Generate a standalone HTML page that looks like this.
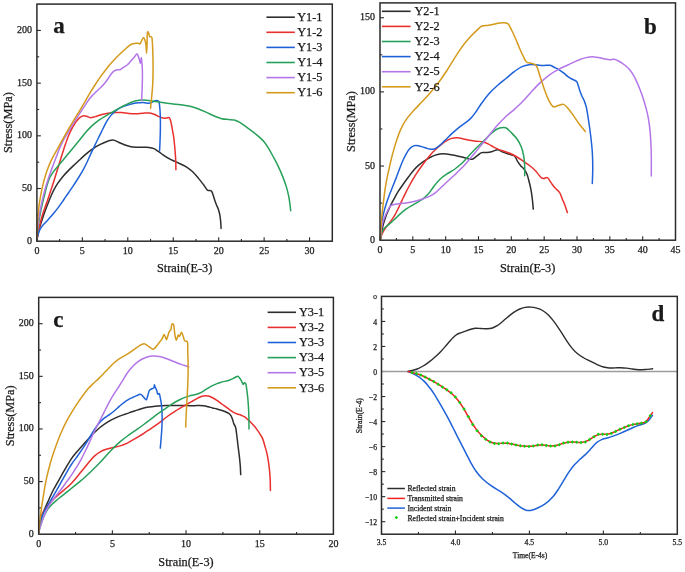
<!DOCTYPE html>
<html><head><meta charset="utf-8"><style>
html,body{margin:0;padding:0;background:#fff;overflow:hidden;width:685px;height:572px;}
svg{display:block;will-change:transform;}
text{font-family:"Liberation Serif", serif;fill:#1a1a1a;stroke:#1a1a1a;stroke-width:0.25px;}
</style></head><body>
<svg width="685" height="572" viewBox="0 0 685 572">
<rect width="685" height="572" fill="#fff"/>
<line x1="59.62" y1="241.20" x2="59.62" y2="238.90" stroke="#2b2b2b" stroke-width="1.1"/>
<line x1="82.35" y1="241.20" x2="82.35" y2="237.20" stroke="#2b2b2b" stroke-width="1.1"/>
<line x1="105.07" y1="241.20" x2="105.07" y2="238.90" stroke="#2b2b2b" stroke-width="1.1"/>
<line x1="127.79" y1="241.20" x2="127.79" y2="237.20" stroke="#2b2b2b" stroke-width="1.1"/>
<line x1="150.52" y1="241.20" x2="150.52" y2="238.90" stroke="#2b2b2b" stroke-width="1.1"/>
<line x1="173.24" y1="241.20" x2="173.24" y2="237.20" stroke="#2b2b2b" stroke-width="1.1"/>
<line x1="195.96" y1="241.20" x2="195.96" y2="238.90" stroke="#2b2b2b" stroke-width="1.1"/>
<line x1="218.68" y1="241.20" x2="218.68" y2="237.20" stroke="#2b2b2b" stroke-width="1.1"/>
<line x1="241.41" y1="241.20" x2="241.41" y2="238.90" stroke="#2b2b2b" stroke-width="1.1"/>
<line x1="264.13" y1="241.20" x2="264.13" y2="237.20" stroke="#2b2b2b" stroke-width="1.1"/>
<line x1="286.85" y1="241.20" x2="286.85" y2="238.90" stroke="#2b2b2b" stroke-width="1.1"/>
<line x1="309.58" y1="241.20" x2="309.58" y2="237.20" stroke="#2b2b2b" stroke-width="1.1"/>
<line x1="36.90" y1="214.86" x2="39.20" y2="214.86" stroke="#2b2b2b" stroke-width="1.1"/>
<line x1="36.90" y1="188.51" x2="40.90" y2="188.51" stroke="#2b2b2b" stroke-width="1.1"/>
<line x1="36.90" y1="162.17" x2="39.20" y2="162.17" stroke="#2b2b2b" stroke-width="1.1"/>
<line x1="36.90" y1="135.82" x2="40.90" y2="135.82" stroke="#2b2b2b" stroke-width="1.1"/>
<line x1="36.90" y1="109.48" x2="39.20" y2="109.48" stroke="#2b2b2b" stroke-width="1.1"/>
<line x1="36.90" y1="83.13" x2="40.90" y2="83.13" stroke="#2b2b2b" stroke-width="1.1"/>
<line x1="36.90" y1="56.79" x2="39.20" y2="56.79" stroke="#2b2b2b" stroke-width="1.1"/>
<line x1="36.90" y1="30.44" x2="40.90" y2="30.44" stroke="#2b2b2b" stroke-width="1.1"/>
<text x="36.90" y="254.20" font-size="10" text-anchor="middle">0</text>
<text x="82.35" y="254.20" font-size="10" text-anchor="middle">5</text>
<text x="127.79" y="254.20" font-size="10" text-anchor="middle">10</text>
<text x="173.24" y="254.20" font-size="10" text-anchor="middle">15</text>
<text x="218.68" y="254.20" font-size="10" text-anchor="middle">20</text>
<text x="264.13" y="254.20" font-size="10" text-anchor="middle">25</text>
<text x="309.58" y="254.20" font-size="10" text-anchor="middle">30</text>
<text x="31.90" y="243.70" font-size="10" text-anchor="end">0</text>
<text x="31.90" y="191.01" font-size="10" text-anchor="end">50</text>
<text x="31.90" y="138.32" font-size="10" text-anchor="end">100</text>
<text x="31.90" y="85.63" font-size="10" text-anchor="end">150</text>
<text x="31.90" y="32.94" font-size="10" text-anchor="end">200</text>
<line x1="396.42" y1="240.20" x2="396.42" y2="237.90" stroke="#2b2b2b" stroke-width="1.1"/>
<line x1="412.83" y1="240.20" x2="412.83" y2="236.20" stroke="#2b2b2b" stroke-width="1.1"/>
<line x1="429.25" y1="240.20" x2="429.25" y2="237.90" stroke="#2b2b2b" stroke-width="1.1"/>
<line x1="445.67" y1="240.20" x2="445.67" y2="236.20" stroke="#2b2b2b" stroke-width="1.1"/>
<line x1="462.08" y1="240.20" x2="462.08" y2="237.90" stroke="#2b2b2b" stroke-width="1.1"/>
<line x1="478.50" y1="240.20" x2="478.50" y2="236.20" stroke="#2b2b2b" stroke-width="1.1"/>
<line x1="494.92" y1="240.20" x2="494.92" y2="237.90" stroke="#2b2b2b" stroke-width="1.1"/>
<line x1="511.33" y1="240.20" x2="511.33" y2="236.20" stroke="#2b2b2b" stroke-width="1.1"/>
<line x1="527.75" y1="240.20" x2="527.75" y2="237.90" stroke="#2b2b2b" stroke-width="1.1"/>
<line x1="544.17" y1="240.20" x2="544.17" y2="236.20" stroke="#2b2b2b" stroke-width="1.1"/>
<line x1="560.58" y1="240.20" x2="560.58" y2="237.90" stroke="#2b2b2b" stroke-width="1.1"/>
<line x1="577.00" y1="240.20" x2="577.00" y2="236.20" stroke="#2b2b2b" stroke-width="1.1"/>
<line x1="593.42" y1="240.20" x2="593.42" y2="237.90" stroke="#2b2b2b" stroke-width="1.1"/>
<line x1="609.83" y1="240.20" x2="609.83" y2="236.20" stroke="#2b2b2b" stroke-width="1.1"/>
<line x1="626.25" y1="240.20" x2="626.25" y2="237.90" stroke="#2b2b2b" stroke-width="1.1"/>
<line x1="642.67" y1="240.20" x2="642.67" y2="236.20" stroke="#2b2b2b" stroke-width="1.1"/>
<line x1="659.08" y1="240.20" x2="659.08" y2="237.90" stroke="#2b2b2b" stroke-width="1.1"/>
<line x1="380.00" y1="203.12" x2="382.30" y2="203.12" stroke="#2b2b2b" stroke-width="1.1"/>
<line x1="380.00" y1="166.04" x2="384.00" y2="166.04" stroke="#2b2b2b" stroke-width="1.1"/>
<line x1="380.00" y1="128.97" x2="382.30" y2="128.97" stroke="#2b2b2b" stroke-width="1.1"/>
<line x1="380.00" y1="91.89" x2="384.00" y2="91.89" stroke="#2b2b2b" stroke-width="1.1"/>
<line x1="380.00" y1="54.81" x2="382.30" y2="54.81" stroke="#2b2b2b" stroke-width="1.1"/>
<line x1="380.00" y1="17.73" x2="384.00" y2="17.73" stroke="#2b2b2b" stroke-width="1.1"/>
<text x="380.00" y="253.20" font-size="10" text-anchor="middle">0</text>
<text x="412.83" y="253.20" font-size="10" text-anchor="middle">5</text>
<text x="445.67" y="253.20" font-size="10" text-anchor="middle">10</text>
<text x="478.50" y="253.20" font-size="10" text-anchor="middle">15</text>
<text x="511.33" y="253.20" font-size="10" text-anchor="middle">20</text>
<text x="544.17" y="253.20" font-size="10" text-anchor="middle">25</text>
<text x="577.00" y="253.20" font-size="10" text-anchor="middle">30</text>
<text x="609.83" y="253.20" font-size="10" text-anchor="middle">35</text>
<text x="642.67" y="253.20" font-size="10" text-anchor="middle">40</text>
<text x="675.50" y="253.20" font-size="10" text-anchor="middle">45</text>
<text x="375.00" y="242.70" font-size="10" text-anchor="end">0</text>
<text x="375.00" y="168.54" font-size="10" text-anchor="end">50</text>
<text x="375.00" y="94.39" font-size="10" text-anchor="end">100</text>
<text x="375.00" y="20.23" font-size="10" text-anchor="end">150</text>
<line x1="75.54" y1="534.20" x2="75.54" y2="531.90" stroke="#2b2b2b" stroke-width="1.1"/>
<line x1="112.38" y1="534.20" x2="112.38" y2="530.20" stroke="#2b2b2b" stroke-width="1.1"/>
<line x1="149.21" y1="534.20" x2="149.21" y2="531.90" stroke="#2b2b2b" stroke-width="1.1"/>
<line x1="186.05" y1="534.20" x2="186.05" y2="530.20" stroke="#2b2b2b" stroke-width="1.1"/>
<line x1="222.89" y1="534.20" x2="222.89" y2="531.90" stroke="#2b2b2b" stroke-width="1.1"/>
<line x1="259.72" y1="534.20" x2="259.72" y2="530.20" stroke="#2b2b2b" stroke-width="1.1"/>
<line x1="296.56" y1="534.20" x2="296.56" y2="531.90" stroke="#2b2b2b" stroke-width="1.1"/>
<line x1="38.70" y1="507.89" x2="41.00" y2="507.89" stroke="#2b2b2b" stroke-width="1.1"/>
<line x1="38.70" y1="481.58" x2="42.70" y2="481.58" stroke="#2b2b2b" stroke-width="1.1"/>
<line x1="38.70" y1="455.27" x2="41.00" y2="455.27" stroke="#2b2b2b" stroke-width="1.1"/>
<line x1="38.70" y1="428.96" x2="42.70" y2="428.96" stroke="#2b2b2b" stroke-width="1.1"/>
<line x1="38.70" y1="402.64" x2="41.00" y2="402.64" stroke="#2b2b2b" stroke-width="1.1"/>
<line x1="38.70" y1="376.33" x2="42.70" y2="376.33" stroke="#2b2b2b" stroke-width="1.1"/>
<line x1="38.70" y1="350.02" x2="41.00" y2="350.02" stroke="#2b2b2b" stroke-width="1.1"/>
<line x1="38.70" y1="323.71" x2="42.70" y2="323.71" stroke="#2b2b2b" stroke-width="1.1"/>
<text x="38.70" y="547.20" font-size="10" text-anchor="middle">0</text>
<text x="112.38" y="547.20" font-size="10" text-anchor="middle">5</text>
<text x="186.05" y="547.20" font-size="10" text-anchor="middle">10</text>
<text x="259.72" y="547.20" font-size="10" text-anchor="middle">15</text>
<text x="333.40" y="547.20" font-size="10" text-anchor="middle">20</text>
<text x="33.70" y="536.70" font-size="10" text-anchor="end">0</text>
<text x="33.70" y="484.08" font-size="10" text-anchor="end">50</text>
<text x="33.70" y="431.46" font-size="10" text-anchor="end">100</text>
<text x="33.70" y="378.83" font-size="10" text-anchor="end">150</text>
<text x="33.70" y="326.21" font-size="10" text-anchor="end">200</text>
<line x1="418.48" y1="534.20" x2="418.48" y2="531.90" stroke="#2b2b2b" stroke-width="1.1"/>
<line x1="455.45" y1="534.20" x2="455.45" y2="530.40" stroke="#2b2b2b" stroke-width="1.1"/>
<line x1="492.42" y1="534.20" x2="492.42" y2="531.90" stroke="#2b2b2b" stroke-width="1.1"/>
<line x1="529.40" y1="534.20" x2="529.40" y2="530.40" stroke="#2b2b2b" stroke-width="1.1"/>
<line x1="566.38" y1="534.20" x2="566.38" y2="531.90" stroke="#2b2b2b" stroke-width="1.1"/>
<line x1="603.35" y1="534.20" x2="603.35" y2="530.40" stroke="#2b2b2b" stroke-width="1.1"/>
<line x1="640.32" y1="534.20" x2="640.32" y2="531.90" stroke="#2b2b2b" stroke-width="1.1"/>
<line x1="381.50" y1="521.68" x2="385.30" y2="521.68" stroke="#2b2b2b" stroke-width="1.1"/>
<line x1="381.50" y1="509.17" x2="383.80" y2="509.17" stroke="#2b2b2b" stroke-width="1.1"/>
<line x1="381.50" y1="496.65" x2="385.30" y2="496.65" stroke="#2b2b2b" stroke-width="1.1"/>
<line x1="381.50" y1="484.14" x2="383.80" y2="484.14" stroke="#2b2b2b" stroke-width="1.1"/>
<line x1="381.50" y1="471.62" x2="385.30" y2="471.62" stroke="#2b2b2b" stroke-width="1.1"/>
<line x1="381.50" y1="459.11" x2="383.80" y2="459.11" stroke="#2b2b2b" stroke-width="1.1"/>
<line x1="381.50" y1="446.59" x2="385.30" y2="446.59" stroke="#2b2b2b" stroke-width="1.1"/>
<line x1="381.50" y1="434.07" x2="383.80" y2="434.07" stroke="#2b2b2b" stroke-width="1.1"/>
<line x1="381.50" y1="421.56" x2="385.30" y2="421.56" stroke="#2b2b2b" stroke-width="1.1"/>
<line x1="381.50" y1="409.04" x2="383.80" y2="409.04" stroke="#2b2b2b" stroke-width="1.1"/>
<line x1="381.50" y1="396.53" x2="385.30" y2="396.53" stroke="#2b2b2b" stroke-width="1.1"/>
<line x1="381.50" y1="384.01" x2="383.80" y2="384.01" stroke="#2b2b2b" stroke-width="1.1"/>
<line x1="381.50" y1="371.49" x2="385.30" y2="371.49" stroke="#2b2b2b" stroke-width="1.1"/>
<line x1="381.50" y1="358.98" x2="383.80" y2="358.98" stroke="#2b2b2b" stroke-width="1.1"/>
<line x1="381.50" y1="346.46" x2="385.30" y2="346.46" stroke="#2b2b2b" stroke-width="1.1"/>
<line x1="381.50" y1="333.95" x2="383.80" y2="333.95" stroke="#2b2b2b" stroke-width="1.1"/>
<line x1="381.50" y1="321.43" x2="385.30" y2="321.43" stroke="#2b2b2b" stroke-width="1.1"/>
<line x1="381.50" y1="308.92" x2="383.80" y2="308.92" stroke="#2b2b2b" stroke-width="1.1"/>
<text x="381.50" y="544.70" font-size="7.7" text-anchor="middle">3.5</text>
<text x="455.45" y="544.70" font-size="7.7" text-anchor="middle">4.0</text>
<text x="529.40" y="544.70" font-size="7.7" text-anchor="middle">4.5</text>
<text x="603.35" y="544.70" font-size="7.7" text-anchor="middle">5.0</text>
<text x="677.30" y="544.70" font-size="7.7" text-anchor="middle">5.5</text>
<text x="377.00" y="524.98" font-size="7.7" text-anchor="end">−12</text>
<text x="377.00" y="499.95" font-size="7.7" text-anchor="end">−10</text>
<text x="377.00" y="474.92" font-size="7.7" text-anchor="end">−8</text>
<text x="377.00" y="449.89" font-size="7.7" text-anchor="end">−6</text>
<text x="377.00" y="424.86" font-size="7.7" text-anchor="end">−4</text>
<text x="377.00" y="399.83" font-size="7.7" text-anchor="end">−2</text>
<text x="377.00" y="374.79" font-size="7.7" text-anchor="end">0</text>
<text x="377.00" y="349.76" font-size="7.7" text-anchor="end">2</text>
<text x="377.00" y="324.73" font-size="7.7" text-anchor="end">4</text>
<circle cx="375.1" cy="297.1" r="1.55" fill="none" stroke="#555" stroke-width="1.1"/>
<text transform="translate(12.40,122.60) rotate(-90)" font-size="12.3" text-anchor="middle">Stress(MPa)</text>
<text x="184.60" y="271.80" font-size="12.3" text-anchor="middle">Strain(E-3)</text>
<text transform="translate(355.00,121.50) rotate(-90)" font-size="12.3" text-anchor="middle">Stress(MPa)</text>
<text x="527.70" y="272.20" font-size="12.3" text-anchor="middle">Strain(E-3)</text>
<text transform="translate(14.20,415.80) rotate(-90)" font-size="12.3" text-anchor="middle">Stress(MPa)</text>
<text x="186.00" y="566.00" font-size="12.3" text-anchor="middle">Strain(E-3)</text>
<text transform="translate(361.60,415.60) rotate(-90)" font-size="7.8" text-anchor="middle">Strain(E-4)</text>
<text x="530.00" y="558.10" font-size="7.5" text-anchor="middle">Time(E-4s)</text>
<line x1="381.50" y1="371.49" x2="677.30" y2="371.49" stroke="#9c9c9c" stroke-width="1.7"/>
<path d="M36.90,240.00 C37.30,237.85 37.62,235.71 38.10,233.55 C38.59,231.35 39.18,229.09 39.80,226.93 C40.41,224.80 41.08,222.78 41.77,220.67 C42.49,218.51 43.25,216.31 44.02,214.10 C44.82,211.85 45.66,209.53 46.50,207.30 C47.31,205.14 48.16,202.97 48.98,200.93 C49.73,199.03 50.43,197.25 51.23,195.45 C52.03,193.65 52.79,191.96 53.77,190.10 C54.90,187.97 56.23,185.64 57.70,183.43 C59.26,181.08 61.07,178.65 62.92,176.42 C64.78,174.21 66.81,172.14 68.83,170.10 C70.83,168.07 72.94,166.12 74.97,164.20 C76.95,162.33 78.98,160.46 80.88,158.72 C82.62,157.13 84.26,155.58 85.92,154.15 C87.49,152.81 88.94,151.63 90.58,150.40 C92.32,149.09 94.08,147.74 96.10,146.55 C98.33,145.23 100.78,143.98 103.43,142.93 C106.34,141.76 110.15,139.89 112.90,140.00 C115.07,140.09 116.67,141.50 118.62,142.30 C120.69,143.15 122.87,144.21 124.98,144.95 C126.98,145.65 128.97,146.30 130.95,146.68 C132.84,147.04 134.64,147.11 136.57,147.22 C138.64,147.35 140.88,147.31 143.00,147.35 C145.07,147.39 147.22,147.20 149.12,147.45 C150.84,147.67 152.38,147.98 153.93,148.65 C155.59,149.37 157.07,150.61 158.72,151.72 C160.56,152.97 162.43,154.50 164.43,155.80 C166.51,157.15 168.71,158.47 171.00,159.65 C173.37,160.87 175.96,161.85 178.43,163.00 C180.91,164.15 183.52,165.12 185.85,166.55 C188.19,167.98 190.36,169.67 192.43,171.57 C194.60,173.58 196.63,176.09 198.55,178.38 C200.40,180.57 202.17,182.93 203.77,185.02 C205.19,186.88 206.23,189.42 207.70,190.30 C208.78,190.94 210.34,190.16 211.20,190.80 C212.13,191.49 212.39,193.13 212.93,194.50 C213.56,196.13 214.07,198.19 214.67,199.98 C215.26,201.70 215.86,203.43 216.50,205.02 C217.08,206.49 217.80,207.68 218.32,209.17 C218.91,210.85 219.40,212.70 219.77,214.62 C220.19,216.75 220.43,219.12 220.65,221.40 C220.87,223.71 220.95,226.07 221.10,228.40" fill="none" stroke="#2d2d2d" stroke-width="1.5" stroke-linejoin="round" stroke-linecap="round"/>
<path d="M36.90,240.00 C37.45,237.01 37.96,233.98 38.55,231.03 C39.12,228.14 39.70,225.25 40.38,222.48 C41.02,219.81 41.73,217.21 42.50,214.70 C43.24,212.30 44.04,210.12 44.88,207.72 C45.77,205.15 46.74,202.60 47.73,199.75 C48.86,196.47 50.07,192.75 51.25,189.15 C52.47,185.43 53.72,181.49 54.90,177.78 C56.03,174.21 57.14,170.64 58.17,167.28 C59.13,164.17 60.03,161.14 60.90,158.32 C61.68,155.81 62.38,153.57 63.15,151.18 C63.94,148.73 64.67,146.37 65.58,143.80 C66.58,140.94 67.67,137.73 68.93,134.80 C70.18,131.88 71.60,128.80 73.10,126.25 C74.41,124.02 75.86,121.89 77.28,120.25 C78.42,118.92 79.60,117.69 80.78,116.95 C81.71,116.36 82.63,115.96 83.60,115.85 C84.58,115.74 85.58,116.03 86.65,116.30 C87.90,116.61 89.24,117.63 90.60,117.70 C92.01,117.77 93.53,117.06 94.98,116.65 C96.44,116.24 97.83,115.67 99.33,115.23 C100.89,114.75 102.50,114.27 104.17,113.90 C105.94,113.51 107.82,113.22 109.67,112.98 C111.57,112.73 113.46,112.51 115.42,112.45 C117.49,112.38 119.61,112.46 121.77,112.62 C124.06,112.79 126.43,113.27 128.77,113.47 C131.14,113.68 133.55,113.90 135.93,113.85 C138.29,113.80 140.68,113.32 143.00,113.17 C145.22,113.04 147.51,112.74 149.55,113.00 C151.41,113.24 153.16,113.88 154.77,114.53 C156.27,115.12 157.54,116.09 158.92,116.67 C160.24,117.23 161.58,117.74 162.88,117.98 C164.06,118.19 165.27,118.20 166.38,118.12 C167.37,118.05 168.49,117.22 169.20,117.60 C170.04,118.06 170.33,119.96 170.75,121.33 C171.23,122.88 171.50,124.75 171.82,126.45 C172.15,128.13 172.41,129.85 172.70,131.47 C172.97,133.00 173.26,134.31 173.50,135.93 C173.79,137.84 174.02,139.92 174.27,142.22 C174.58,145.02 174.91,148.36 175.15,151.50 C175.40,154.73 175.63,158.17 175.75,161.32 C175.87,164.25 175.85,166.98 175.90,169.80" fill="none" stroke="#e8302e" stroke-width="1.5" stroke-linejoin="round" stroke-linecap="round"/>
<path d="M36.90,239.50 C37.18,238.17 37.37,236.87 37.75,235.50 C38.16,233.99 38.63,232.33 39.33,230.83 C40.04,229.29 40.96,227.81 42.00,226.40 C43.08,224.93 44.42,223.61 45.70,222.20 C47.02,220.74 48.45,219.31 49.80,217.80 C51.18,216.26 52.55,214.70 53.90,213.08 C55.28,211.41 56.66,209.71 58.00,207.92 C59.39,206.08 60.80,204.06 62.10,202.18 C63.33,200.39 64.47,198.62 65.62,196.93 C66.72,195.32 67.70,193.93 68.85,192.25 C70.20,190.28 71.71,188.10 73.22,185.82 C74.91,183.30 76.79,180.46 78.47,177.75 C80.14,175.07 81.82,172.32 83.28,169.65 C84.65,167.14 85.82,164.72 87.03,162.20 C88.25,159.64 89.31,157.09 90.55,154.40 C91.90,151.48 93.37,148.36 94.83,145.32 C96.29,142.26 97.85,139.12 99.33,136.12 C100.73,133.27 102.13,130.39 103.47,127.75 C104.69,125.36 105.75,123.09 107.03,120.97 C108.23,118.98 109.38,117.15 110.90,115.38 C112.52,113.48 114.50,111.52 116.55,110.02 C118.54,108.57 120.80,107.39 122.98,106.48 C125.02,105.62 127.08,105.19 129.20,104.62 C131.39,104.04 133.64,103.39 135.93,103.05 C138.24,102.70 140.65,102.57 143.00,102.57 C145.34,102.58 148.14,103.45 150.00,103.10 C151.34,102.85 152.22,101.99 153.28,101.53 C154.24,101.10 155.17,100.42 156.10,100.40 C156.98,100.38 158.11,100.62 158.70,101.30 C159.47,102.18 159.36,104.07 159.60,105.88 C159.94,108.44 160.14,111.90 160.28,115.28 C160.44,119.21 160.44,123.84 160.40,128.05 C160.37,132.16 160.22,136.35 160.07,140.25 C159.94,143.84 159.76,147.15 159.60,150.60" fill="none" stroke="#1f62d8" stroke-width="1.5" stroke-linejoin="round" stroke-linecap="round"/>
<path d="M36.90,238.50 C37.18,235.42 37.38,232.35 37.75,229.28 C38.12,226.19 38.59,223.05 39.10,220.03 C39.59,217.09 40.15,214.19 40.73,211.40 C41.27,208.76 41.82,206.32 42.42,203.70 C43.06,200.96 43.73,198.22 44.45,195.33 C45.23,192.20 46.01,188.65 46.95,185.58 C47.82,182.75 48.68,179.94 49.82,177.55 C50.84,175.44 52.03,173.71 53.33,171.88 C54.65,169.99 56.20,168.23 57.70,166.40 C59.25,164.51 60.93,162.57 62.50,160.70 C64.02,158.88 65.50,157.09 66.97,155.32 C68.40,153.61 69.74,152.01 71.20,150.25 C72.77,148.36 74.42,146.38 76.08,144.35 C77.82,142.20 79.68,139.82 81.42,137.68 C83.06,135.66 84.63,133.65 86.22,131.82 C87.69,130.15 89.11,128.59 90.60,127.12 C92.03,125.72 93.49,124.42 94.98,123.20 C96.40,122.03 97.82,120.98 99.33,119.93 C100.88,118.84 102.50,117.80 104.17,116.78 C105.92,115.71 107.70,114.73 109.60,113.65 C111.68,112.47 113.78,111.30 116.15,110.00 C118.94,108.46 122.14,106.54 125.28,105.03 C128.44,103.50 131.81,101.72 135.05,100.90 C138.01,100.15 140.91,99.99 143.88,100.02 C146.91,100.06 149.99,100.75 153.05,101.17 C156.11,101.60 159.16,102.12 162.22,102.55 C165.29,102.97 168.36,103.37 171.43,103.72 C174.48,104.08 177.63,104.30 180.60,104.70 C183.44,105.09 186.13,105.45 188.88,106.08 C191.67,106.71 194.41,107.55 197.20,108.53 C200.11,109.54 203.11,110.84 205.98,112.10 C208.80,113.34 211.56,114.90 214.27,116.03 C216.79,117.07 219.26,118.12 221.70,118.70 C223.95,119.24 226.22,119.30 228.37,119.53 C230.40,119.73 232.35,119.52 234.28,120.00 C236.28,120.50 238.13,121.40 240.15,122.55 C242.60,123.94 245.15,126.10 247.78,128.05 C250.65,130.18 253.93,132.51 256.70,134.85 C259.32,137.06 261.93,139.23 264.02,141.68 C266.00,143.98 267.44,146.49 269.00,149.05 C270.59,151.66 271.98,154.39 273.48,157.20 C275.05,160.16 276.71,163.21 278.23,166.38 C279.80,169.67 281.33,173.17 282.70,176.60 C284.05,179.99 285.35,183.48 286.38,186.85 C287.34,190.04 288.12,193.28 288.73,196.30 C289.27,199.02 289.59,201.65 289.93,204.15 C290.23,206.43 290.44,208.52 290.70,210.70" fill="none" stroke="#27a05a" stroke-width="1.5" stroke-linejoin="round" stroke-linecap="round"/>
<path d="M36.90,238.50 C37.18,234.82 37.38,231.12 37.75,227.45 C38.12,223.80 38.56,220.07 39.10,216.55 C39.61,213.23 40.21,210.07 40.85,206.90 C41.48,203.79 42.18,200.76 42.92,197.70 C43.67,194.64 44.46,191.55 45.30,188.55 C46.12,185.63 46.97,182.78 47.88,179.95 C48.77,177.15 49.74,174.39 50.73,171.65 C51.71,168.93 52.79,166.17 53.77,163.55 C54.71,161.07 55.62,158.65 56.50,156.32 C57.32,154.15 58.04,152.10 58.88,150.03 C59.71,147.95 60.54,145.91 61.52,143.88 C62.53,141.79 63.66,139.75 64.85,137.68 C66.08,135.52 67.46,133.39 68.80,131.17 C70.20,128.86 71.65,126.43 73.10,124.05 C74.55,121.66 76.02,119.22 77.50,116.88 C78.95,114.58 80.44,112.29 81.88,110.10 C83.23,108.03 84.60,105.96 85.88,104.08 C87.01,102.39 88.03,100.79 89.15,99.30 C90.20,97.90 91.22,96.65 92.40,95.38 C93.62,94.05 95.01,92.82 96.38,91.53 C97.79,90.19 99.32,88.89 100.72,87.47 C102.15,86.05 103.59,84.56 104.88,83.00 C106.14,81.46 107.29,79.76 108.37,78.20 C109.38,76.76 110.22,75.20 111.20,73.97 C112.05,72.91 112.85,71.86 113.83,71.17 C114.70,70.56 115.69,70.20 116.70,69.95 C117.74,69.70 119.01,70.05 120.00,69.70 C120.97,69.36 121.73,68.50 122.60,67.92 C123.46,67.36 124.37,66.84 125.20,66.30 C125.99,65.79 126.80,65.35 127.47,64.78 C128.13,64.22 128.65,63.56 129.22,62.90 C129.83,62.21 130.38,61.42 131.00,60.70 C131.64,59.96 132.36,59.25 133.03,58.50 C133.70,57.74 134.37,56.95 135.03,56.15 C135.69,55.35 136.45,53.64 137.00,53.70 C137.54,53.76 137.91,55.41 138.30,56.38 C138.74,57.45 139.11,58.71 139.45,59.88 C139.78,61.02 140.03,63.31 140.30,63.30 C140.65,63.29 141.03,57.59 141.30,57.60 C141.56,57.61 141.76,61.03 141.93,62.90 C142.11,64.98 142.26,67.16 142.35,69.50 C142.45,72.15 142.46,74.98 142.43,78.00 C142.39,81.45 142.24,85.38 142.10,89.10 C141.96,92.85 141.77,96.63 141.60,100.40" fill="none" stroke="#b376e8" stroke-width="1.5" stroke-linejoin="round" stroke-linecap="round"/>
<path d="M36.90,238.50 C37.02,234.82 37.08,231.12 37.25,227.45 C37.42,223.80 37.62,220.07 37.90,216.55 C38.17,213.23 38.46,210.15 38.88,206.90 C39.30,203.57 39.81,200.24 40.43,196.82 C41.06,193.26 41.83,189.44 42.65,185.93 C43.43,182.59 44.29,179.34 45.23,176.22 C46.11,173.28 47.05,170.44 48.10,167.70 C49.11,165.06 50.26,162.41 51.40,160.05 C52.42,157.93 53.53,156.01 54.55,154.15 C55.47,152.47 56.31,151.05 57.23,149.38 C58.23,147.54 59.24,145.63 60.35,143.60 C61.60,141.31 63.00,138.78 64.38,136.32 C65.79,133.80 67.26,131.18 68.72,128.65 C70.17,126.16 71.63,123.70 73.10,121.27 C74.55,118.88 76.05,116.56 77.50,114.20 C78.95,111.84 80.41,109.49 81.83,107.10 C83.25,104.70 84.60,102.27 86.03,99.83 C87.48,97.32 88.93,94.78 90.47,92.22 C92.07,89.58 93.77,86.86 95.47,84.22 C97.18,81.59 98.94,78.93 100.72,76.42 C102.44,74.01 104.20,71.68 105.97,69.43 C107.70,67.24 109.48,65.11 111.22,63.10 C112.87,61.20 114.53,59.33 116.15,57.65 C117.62,56.13 119.05,54.79 120.50,53.42 C121.91,52.10 123.34,50.81 124.72,49.55 C126.05,48.34 127.35,46.98 128.65,46.03 C129.75,45.21 130.79,44.50 131.93,44.07 C132.98,43.67 134.09,43.60 135.20,43.45 C136.34,43.30 137.84,42.99 138.70,43.20 C139.27,43.34 139.60,44.11 140.00,44.00 C140.58,43.84 140.98,42.10 141.53,41.08 C142.13,39.94 142.90,37.51 143.50,37.50 C143.98,37.49 144.46,38.76 144.82,39.67 C145.35,40.99 145.66,42.87 145.95,44.80 C146.31,47.24 146.42,53.20 146.60,53.20 C146.79,53.20 146.90,47.50 147.05,44.25 C147.23,40.35 146.91,31.57 147.60,31.40 C147.89,31.33 148.40,32.60 148.73,33.35 C149.12,34.28 149.14,36.19 149.70,36.60 C150.04,36.86 150.65,36.44 151.00,36.60 C151.34,36.75 151.59,37.02 151.80,37.50 C152.28,38.60 152.26,41.29 152.43,43.62 C152.65,46.75 152.77,50.64 152.88,54.58 C153.00,59.16 153.10,64.53 153.07,69.47 C153.05,74.37 152.97,79.40 152.72,84.10 C152.50,88.47 152.11,92.63 151.72,96.75 C151.36,100.69 150.91,104.45 150.50,108.30" fill="none" stroke="#d49a1c" stroke-width="1.5" stroke-linejoin="round" stroke-linecap="round"/>
<path d="M380.40,239.50 C380.87,236.70 381.32,233.68 381.82,231.10 C382.26,228.88 382.68,226.90 383.20,224.93 C383.68,223.08 384.21,221.38 384.80,219.60 C385.40,217.77 386.05,215.94 386.77,214.10 C387.52,212.21 388.35,210.31 389.23,208.40 C390.13,206.42 391.14,204.40 392.15,202.43 C393.16,200.44 394.20,198.45 395.27,196.52 C396.33,194.63 397.34,192.85 398.55,190.95 C399.88,188.86 401.39,186.74 402.98,184.50 C404.72,182.03 406.73,179.26 408.60,176.77 C410.37,174.42 412.08,172.00 413.90,169.95 C415.57,168.07 417.26,166.41 419.05,164.88 C420.77,163.40 422.63,162.11 424.43,160.90 C426.12,159.75 427.78,158.68 429.50,157.75 C431.17,156.85 432.82,156.01 434.57,155.38 C436.34,154.74 438.13,154.20 440.05,153.95 C442.11,153.69 444.30,153.77 446.55,153.95 C449.01,154.15 451.68,154.69 454.23,155.20 C456.79,155.71 459.48,156.39 461.90,157.00 C464.08,157.55 466.25,158.25 468.10,158.65 C469.57,158.96 470.78,159.59 472.10,159.30 C473.64,158.96 475.13,157.26 476.67,156.18 C478.29,155.03 479.83,153.18 481.60,152.60 C483.25,152.06 485.13,152.78 486.90,152.60 C488.73,152.42 490.60,151.98 492.40,151.50 C494.20,151.02 495.95,149.61 497.70,149.70 C499.48,149.79 501.17,151.37 502.98,152.10 C504.81,152.85 506.72,153.48 508.62,154.12 C510.56,154.78 513.03,154.81 514.50,156.00 C515.93,157.16 516.36,159.48 517.40,161.10 C518.42,162.69 519.52,164.25 520.67,165.65 C521.77,166.97 523.13,167.94 524.15,169.30 C525.22,170.72 526.12,172.24 526.90,174.05 C527.82,176.20 528.42,178.93 529.08,181.45 C529.75,184.04 530.39,186.69 530.90,189.38 C531.42,192.12 531.80,194.76 532.17,197.78 C532.61,201.26 532.92,205.32 533.30,209.10" fill="none" stroke="#2d2d2d" stroke-width="1.5" stroke-linejoin="round" stroke-linecap="round"/>
<path d="M380.40,239.50 C380.71,238.34 380.93,237.20 381.32,236.02 C381.75,234.77 382.27,233.48 382.90,232.22 C383.57,230.90 384.39,229.58 385.28,228.27 C386.22,226.88 387.34,225.53 388.43,224.13 C389.56,222.65 390.81,221.21 391.92,219.62 C393.08,217.98 394.17,216.28 395.23,214.43 C396.38,212.40 397.43,210.16 398.52,207.90 C399.69,205.50 400.83,202.88 402.00,200.40 C403.16,197.93 404.30,195.46 405.50,193.05 C406.69,190.66 407.89,188.37 409.18,186.00 C410.50,183.55 411.94,180.97 413.35,178.60 C414.69,176.35 416.04,174.14 417.40,172.10 C418.66,170.21 419.86,168.59 421.20,166.75 C422.66,164.75 424.24,162.60 425.83,160.55 C427.42,158.49 429.07,156.29 430.73,154.43 C432.23,152.73 433.69,151.26 435.27,149.77 C436.86,148.29 438.50,146.90 440.22,145.50 C442.01,144.05 443.88,142.43 445.82,141.22 C447.70,140.07 449.67,138.93 451.68,138.38 C453.58,137.85 455.58,137.76 457.52,137.85 C459.48,137.94 461.40,138.50 463.38,138.90 C465.42,139.31 467.44,139.90 469.57,140.28 C471.81,140.66 474.22,140.87 476.50,141.15 C478.72,141.43 481.01,141.43 483.07,141.95 C485.02,142.44 486.79,143.21 488.55,144.07 C490.32,144.95 491.89,146.24 493.65,147.18 C495.42,148.11 497.22,148.94 499.12,149.67 C501.11,150.44 503.27,150.96 505.32,151.68 C507.40,152.39 509.52,153.05 511.52,153.98 C513.54,154.91 515.42,156.05 517.38,157.25 C519.44,158.52 521.48,160.01 523.58,161.45 C525.74,162.94 528.06,164.37 530.15,166.03 C532.24,167.69 534.28,169.49 536.12,171.43 C537.96,173.35 539.64,176.52 541.20,177.60 C542.11,178.24 542.86,178.46 543.80,178.50 C544.87,178.54 546.23,177.22 547.30,177.60 C548.71,178.10 549.74,180.94 551.02,182.65 C552.36,184.44 553.72,186.44 555.17,188.10 C556.55,189.67 558.35,190.70 559.50,192.40 C560.72,194.21 561.29,196.65 562.17,198.75 C563.05,200.82 563.97,202.72 564.80,204.90 C565.72,207.31 566.53,210.03 567.40,212.60" fill="none" stroke="#e8302e" stroke-width="1.5" stroke-linejoin="round" stroke-linecap="round"/>
<path d="M380.40,239.50 C380.71,237.62 380.82,235.54 381.32,233.85 C381.77,232.38 382.31,231.06 383.10,229.88 C383.89,228.69 385.00,227.75 386.07,226.72 C387.22,225.64 388.52,224.68 389.80,223.57 C391.19,222.37 392.64,221.10 394.10,219.75 C395.67,218.30 397.29,216.59 398.88,215.12 C400.39,213.73 401.89,212.32 403.40,211.12 C404.80,210.02 406.18,209.10 407.60,208.18 C408.99,207.27 410.40,206.46 411.80,205.62 C413.20,204.79 414.60,204.01 416.00,203.18 C417.40,202.34 418.83,201.52 420.20,200.62 C421.57,199.73 422.95,198.86 424.23,197.82 C425.52,196.77 426.75,195.62 427.90,194.35 C429.09,193.04 430.10,191.57 431.22,190.07 C432.44,188.46 433.57,186.69 434.95,184.97 C436.47,183.09 438.12,181.04 440.00,179.27 C441.96,177.44 444.24,175.82 446.55,174.22 C448.97,172.56 451.72,171.27 454.23,169.50 C456.84,167.65 459.45,165.58 461.90,163.30 C464.45,160.92 466.76,158.05 469.20,155.45 C471.63,152.87 474.07,150.21 476.50,147.78 C478.81,145.47 481.19,143.37 483.42,141.20 C485.56,139.12 487.55,136.92 489.62,135.00 C491.57,133.20 493.45,131.22 495.47,130.00 C497.25,128.93 499.16,128.15 500.95,127.80 C502.56,127.49 504.14,127.22 505.70,127.80 C507.69,128.54 509.67,131.04 511.52,132.88 C513.45,134.77 515.43,136.76 517.02,139.03 C518.67,141.36 520.13,143.97 521.23,146.70 C522.35,149.51 523.08,152.57 523.65,155.65 C524.24,158.83 524.47,162.18 524.65,165.50 C524.83,168.87 524.68,172.30 524.70,175.70" fill="none" stroke="#27a05a" stroke-width="1.5" stroke-linejoin="round" stroke-linecap="round"/>
<path d="M380.40,239.50 C380.64,235.98 380.83,232.17 381.12,228.93 C381.38,226.15 381.63,223.64 382.00,221.20 C382.34,218.99 382.74,216.99 383.20,214.90 C383.67,212.79 384.21,210.69 384.80,208.60 C385.40,206.49 386.08,204.39 386.77,202.30 C387.48,200.21 388.26,198.07 389.00,196.07 C389.69,194.20 390.39,192.41 391.07,190.65 C391.74,188.96 392.36,187.43 393.05,185.70 C393.82,183.78 394.65,181.73 395.48,179.62 C396.36,177.35 397.28,174.89 398.18,172.53 C399.07,170.16 399.93,167.73 400.85,165.43 C401.74,163.21 402.64,161.02 403.60,158.98 C404.50,157.07 405.42,155.22 406.40,153.55 C407.29,152.03 408.17,150.55 409.20,149.35 C410.12,148.28 411.08,147.26 412.18,146.62 C413.19,146.03 414.36,145.67 415.50,145.55 C416.64,145.43 417.84,145.68 419.00,145.90 C420.18,146.12 421.34,146.53 422.50,146.88 C423.67,147.23 424.83,147.64 426.00,148.00 C427.16,148.36 428.34,148.83 429.50,149.05 C430.61,149.26 431.77,149.44 432.82,149.32 C433.82,149.22 434.70,148.94 435.65,148.45 C436.80,147.86 437.86,146.89 439.12,145.82 C440.81,144.41 442.78,142.45 444.78,140.55 C447.07,138.36 449.62,135.70 452.12,133.40 C454.60,131.13 457.26,128.76 459.70,126.82 C461.84,125.13 464.01,123.80 465.93,122.33 C467.64,121.00 469.18,119.90 470.68,118.40 C472.28,116.79 473.63,114.98 475.18,112.90 C477.03,110.39 478.82,107.27 480.93,104.30 C483.28,100.98 485.92,97.15 488.73,93.97 C491.45,90.89 494.50,88.13 497.48,85.47 C500.34,82.91 503.35,80.65 506.23,78.28 C509.04,75.96 511.79,73.41 514.55,71.40 C517.05,69.58 519.47,67.76 522.00,66.62 C524.29,65.59 526.65,64.95 529.00,64.65 C531.31,64.36 533.66,64.68 535.98,64.83 C538.30,64.97 540.60,65.47 542.92,65.55 C545.25,65.63 547.78,64.87 549.90,65.30 C551.83,65.69 553.48,66.92 555.18,67.78 C556.80,68.59 558.41,69.38 559.88,70.30 C561.28,71.18 562.52,72.16 563.83,73.17 C565.18,74.23 566.47,75.51 567.88,76.53 C569.27,77.53 570.75,78.41 572.23,79.25 C573.66,80.07 575.58,80.36 576.60,81.50 C577.63,82.64 577.81,84.50 578.38,86.10 C578.98,87.81 579.50,89.73 580.12,91.47 C580.74,93.18 581.39,94.88 582.10,96.47 C582.78,98.00 583.62,99.25 584.28,100.85 C585.02,102.67 585.64,104.54 586.23,106.88 C587.00,110.00 587.55,113.94 588.20,118.03 C588.99,122.98 589.85,128.91 590.52,134.53 C591.23,140.36 591.96,146.57 592.33,152.43 C592.68,158.04 592.76,163.61 592.75,168.95 C592.74,173.98 592.45,178.72 592.30,183.60" fill="none" stroke="#1f62d8" stroke-width="1.5" stroke-linejoin="round" stroke-linecap="round"/>
<path d="M380.40,239.50 C380.67,236.44 380.85,233.12 381.22,230.33 C381.54,227.95 381.90,225.79 382.40,223.77 C382.85,221.99 383.40,220.44 384.00,218.83 C384.59,217.22 385.26,215.64 385.97,214.10 C386.67,212.59 387.44,211.09 388.23,209.68 C388.98,208.32 389.56,206.65 390.60,205.80 C391.52,205.05 392.76,204.89 393.93,204.58 C395.15,204.25 396.41,204.10 397.77,203.90 C399.31,203.68 400.94,203.58 402.68,203.35 C404.65,203.09 406.84,202.79 409.00,202.40 C411.28,201.99 413.71,201.50 416.00,200.93 C418.26,200.36 420.54,199.70 422.65,199.00 C424.61,198.35 426.55,197.62 428.25,196.90 C429.72,196.27 431.05,195.71 432.30,194.97 C433.48,194.28 434.40,193.59 435.55,192.65 C437.02,191.45 438.55,189.84 440.27,188.22 C442.35,186.27 444.80,183.92 447.15,181.75 C449.57,179.51 452.15,177.28 454.60,174.97 C457.07,172.65 459.51,170.36 461.90,167.85 C464.38,165.25 466.79,162.43 469.20,159.62 C471.66,156.77 474.07,153.81 476.50,150.88 C478.94,147.92 481.37,144.93 483.80,141.93 C486.24,138.90 488.64,135.79 491.10,132.80 C493.53,129.84 495.93,126.83 498.48,124.05 C500.97,121.32 503.60,118.66 506.23,116.25 C508.71,113.96 511.30,112.08 513.80,109.88 C516.36,107.61 518.79,105.45 521.40,102.82 C524.40,99.80 527.52,96.05 530.70,92.65 C533.96,89.16 537.39,85.31 540.75,82.17 C543.80,79.33 546.78,76.74 549.92,74.52 C552.88,72.45 555.91,70.84 559.00,69.20 C562.07,67.57 565.29,66.19 568.40,64.72 C571.45,63.29 574.46,61.70 577.48,60.50 C580.33,59.36 583.20,58.23 586.00,57.62 C588.59,57.07 591.22,56.83 593.65,56.88 C595.87,56.91 598.00,57.33 600.00,57.72 C601.84,58.09 603.55,58.76 605.25,59.10 C606.82,59.42 608.32,59.72 609.83,59.75 C611.30,59.78 612.71,59.07 614.20,59.30 C615.90,59.56 617.72,60.61 619.42,61.52 C621.22,62.49 623.02,63.70 624.68,65.02 C626.37,66.38 628.03,67.93 629.48,69.60 C630.94,71.28 632.20,73.09 633.40,75.07 C634.69,77.22 635.78,79.61 636.90,82.07 C638.12,84.75 639.29,87.65 640.40,90.57 C641.55,93.61 642.68,96.84 643.67,99.98 C644.65,103.04 645.52,106.15 646.30,109.18 C647.05,112.09 647.70,114.62 648.27,117.80 C648.98,121.65 649.56,125.85 650.02,130.68 C650.62,136.83 651.01,144.48 651.22,151.75 C651.46,159.55 651.27,167.92 651.30,176.00" fill="none" stroke="#b376e8" stroke-width="1.5" stroke-linejoin="round" stroke-linecap="round"/>
<path d="M380.40,239.50 C380.59,235.84 380.77,231.99 380.98,228.53 C381.16,225.40 381.35,222.48 381.57,219.60 C381.79,216.89 382.03,214.35 382.30,211.72 C382.57,209.10 382.89,206.50 383.20,203.88 C383.51,201.25 383.83,198.66 384.18,195.97 C384.54,193.17 384.88,190.31 385.35,187.38 C385.85,184.28 386.47,181.00 387.10,177.85 C387.72,174.73 388.41,171.67 389.10,168.57 C389.79,165.47 390.47,162.42 391.25,159.27 C392.06,156.01 392.92,152.68 393.88,149.35 C394.85,145.93 395.85,142.47 397.05,139.03 C398.28,135.48 399.58,131.76 401.20,128.38 C402.79,125.06 404.57,121.87 406.65,118.90 C408.72,115.94 411.17,113.37 413.65,110.60 C416.26,107.68 419.19,104.85 421.98,101.85 C424.87,98.74 427.88,95.53 430.70,92.22 C433.54,88.90 436.35,85.48 438.98,81.97 C441.59,78.49 444.06,74.84 446.42,71.25 C448.74,67.73 450.90,64.07 453.05,60.65 C455.06,57.44 456.90,54.30 458.92,51.32 C460.88,48.45 462.86,45.72 464.98,43.08 C467.06,40.47 469.36,37.87 471.53,35.57 C473.48,33.50 475.47,31.53 477.35,29.85 C478.98,28.40 480.34,26.72 482.10,26.00 C483.77,25.31 485.81,25.70 487.60,25.45 C489.34,25.21 490.99,24.90 492.70,24.55 C494.45,24.19 496.24,23.60 498.00,23.30 C499.71,23.01 501.47,22.71 503.12,22.77 C504.70,22.84 506.41,22.71 507.70,23.60 C509.31,24.71 510.23,27.49 511.45,29.77 C512.88,32.45 514.24,35.67 515.60,38.75 C517.02,41.98 518.43,45.63 519.80,48.75 C521.02,51.54 522.19,54.28 523.40,56.62 C524.43,58.61 525.03,60.88 526.50,62.00 C527.88,63.05 530.17,62.79 531.80,63.38 C533.28,63.91 534.72,64.01 535.90,65.30 C537.89,67.47 538.85,73.26 540.30,77.35 C541.79,81.57 543.17,86.19 544.70,90.25 C546.10,93.97 547.43,97.88 549.08,100.83 C550.40,103.19 551.68,106.18 553.40,106.80 C554.82,107.31 556.58,105.94 558.23,105.55 C559.94,105.14 561.85,103.95 563.50,104.40 C565.39,104.91 567.07,107.34 568.73,109.20 C570.58,111.28 572.22,113.94 573.98,116.40 C575.79,118.96 577.52,121.74 579.42,124.28 C581.30,126.77 583.34,129.09 585.30,131.50" fill="none" stroke="#d49a1c" stroke-width="1.5" stroke-linejoin="round" stroke-linecap="round"/>
<path d="M38.80,532.00 C39.10,529.67 39.31,527.29 39.70,525.00 C40.09,522.75 40.56,520.45 41.12,518.38 C41.64,516.48 42.27,514.66 42.90,513.00 C43.47,511.52 44.09,510.23 44.70,508.88 C45.30,507.53 45.93,506.29 46.55,504.90 C47.23,503.40 47.89,501.81 48.60,500.18 C49.37,498.42 50.15,496.51 51.00,494.70 C51.86,492.86 52.80,490.97 53.72,489.23 C54.60,487.57 55.53,486.00 56.40,484.48 C57.21,483.05 57.98,481.75 58.78,480.35 C59.59,478.92 60.39,477.46 61.23,475.98 C62.09,474.42 62.99,472.79 63.88,471.23 C64.75,469.68 65.62,468.13 66.50,466.62 C67.36,465.16 68.25,463.68 69.10,462.30 C69.89,461.02 70.55,459.89 71.45,458.62 C72.48,457.17 73.58,455.80 75.00,454.07 C76.96,451.69 79.66,448.62 82.22,445.73 C85.07,442.51 88.31,438.78 91.33,435.68 C94.10,432.82 96.77,430.09 99.62,427.73 C102.31,425.50 105.06,423.56 107.92,421.82 C110.74,420.12 113.76,418.67 116.68,417.38 C119.45,416.14 122.31,415.16 124.97,414.20 C127.42,413.32 129.82,412.58 132.05,411.83 C134.05,411.15 135.88,410.49 137.75,409.88 C139.54,409.29 141.21,408.68 143.03,408.20 C144.92,407.70 146.90,407.31 148.90,406.98 C150.96,406.63 153.10,406.37 155.20,406.15 C157.28,405.93 159.31,405.78 161.43,405.68 C163.63,405.57 165.83,405.56 168.18,405.52 C170.74,405.48 173.58,405.46 176.22,405.45 C178.81,405.44 181.50,405.43 183.88,405.47 C185.94,405.51 187.79,405.64 189.65,405.68 C191.38,405.71 193.03,405.73 194.67,405.70 C196.27,405.67 197.84,405.49 199.38,405.50 C200.85,405.51 202.28,405.53 203.72,405.72 C205.19,405.92 206.64,406.34 208.10,406.70 C209.57,407.06 211.03,407.52 212.50,407.90 C213.96,408.28 215.42,408.60 216.88,409.00 C218.33,409.40 219.80,409.81 221.22,410.27 C222.63,410.73 224.08,411.22 225.38,411.77 C226.58,412.29 227.80,412.77 228.77,413.48 C229.68,414.13 230.46,414.88 231.08,415.82 C231.75,416.87 232.09,418.27 232.55,419.57 C233.03,420.95 233.34,422.59 233.88,423.88 C234.34,425.00 235.09,425.68 235.50,426.90 C236.05,428.54 236.17,430.84 236.47,432.98 C236.81,435.34 237.09,437.88 237.40,440.48 C237.74,443.26 238.07,446.26 238.43,449.15 C238.78,452.04 239.21,454.94 239.53,457.80 C239.83,460.62 240.10,463.40 240.30,466.20 C240.50,469.00 240.57,471.80 240.70,474.60" fill="none" stroke="#2d2d2d" stroke-width="1.5" stroke-linejoin="round" stroke-linecap="round"/>
<path d="M38.80,532.00 C39.11,529.18 39.30,526.15 39.73,523.55 C40.10,521.28 40.48,519.21 41.12,517.23 C41.73,515.36 42.50,513.69 43.42,511.98 C44.39,510.19 45.56,508.43 46.83,506.73 C48.14,504.95 49.65,503.19 51.20,501.52 C52.78,499.83 54.50,498.21 56.23,496.65 C57.93,495.10 59.73,493.68 61.47,492.20 C63.21,490.73 64.97,489.31 66.65,487.80 C68.32,486.29 69.97,484.76 71.53,483.15 C73.06,481.55 74.48,479.88 75.92,478.18 C77.40,476.43 78.80,474.62 80.30,472.77 C81.88,470.83 83.56,468.79 85.20,466.80 C86.84,464.81 88.51,462.72 90.15,460.85 C91.68,459.10 93.07,457.38 94.70,455.90 C96.29,454.46 97.93,453.14 99.80,452.05 C101.75,450.92 103.99,450.04 106.20,449.30 C108.45,448.54 110.87,448.14 113.20,447.57 C115.53,447.01 117.93,446.61 120.20,445.90 C122.44,445.20 124.67,444.34 126.75,443.38 C128.76,442.44 130.60,441.29 132.50,440.20 C134.41,439.11 136.27,437.99 138.18,436.82 C140.15,435.62 142.19,434.37 144.15,433.10 C146.09,431.85 148.00,430.53 149.88,429.27 C151.69,428.06 153.46,426.93 155.22,425.70 C157.00,424.46 158.74,423.19 160.47,421.88 C162.24,420.54 163.96,419.06 165.72,417.73 C167.46,416.41 169.22,415.09 170.97,413.90 C172.65,412.76 174.36,411.74 176.00,410.73 C177.56,409.77 179.09,408.89 180.60,407.97 C182.08,407.09 183.51,406.19 184.98,405.32 C186.42,404.47 187.89,403.62 189.32,402.80 C190.72,402.01 192.16,401.24 193.48,400.50 C194.67,399.83 195.77,399.16 196.87,398.55 C197.91,397.98 198.83,397.39 199.93,396.95 C201.10,396.48 202.40,396.02 203.72,395.88 C205.12,395.72 206.66,395.80 208.10,396.10 C209.59,396.41 211.07,397.05 212.50,397.75 C214.00,398.48 215.44,399.44 216.88,400.40 C218.35,401.38 219.77,402.52 221.22,403.57 C222.68,404.63 224.16,405.68 225.60,406.72 C227.01,407.75 228.42,408.81 229.78,409.77 C231.05,410.68 232.22,411.66 233.50,412.38 C234.70,413.05 235.93,413.53 237.20,414.00 C238.48,414.48 239.89,414.72 241.15,415.22 C242.38,415.71 243.57,416.23 244.67,416.95 C245.81,417.69 246.77,418.68 247.85,419.65 C249.02,420.70 250.25,421.88 251.43,423.05 C252.61,424.24 253.85,425.42 254.92,426.73 C256.01,428.04 256.95,429.53 257.90,430.93 C258.82,432.27 259.72,433.65 260.52,434.95 C261.25,436.13 261.98,437.17 262.52,438.38 C263.08,439.58 263.41,440.84 263.83,442.17 C264.28,443.65 264.69,445.19 265.15,446.85 C265.67,448.74 266.30,450.73 266.80,452.90 C267.37,455.38 267.88,458.15 268.32,460.95 C268.80,463.97 269.21,467.20 269.52,470.40 C269.85,473.67 270.08,477.01 270.23,480.35 C270.37,483.74 270.34,487.18 270.40,490.60" fill="none" stroke="#e8302e" stroke-width="1.5" stroke-linejoin="round" stroke-linecap="round"/>
<path d="M38.80,532.00 C39.16,529.42 39.38,526.74 39.88,524.25 C40.34,521.88 40.90,519.55 41.65,517.38 C42.37,515.30 43.30,513.36 44.25,511.48 C45.18,509.64 46.26,507.94 47.27,506.20 C48.28,504.48 49.30,502.83 50.32,501.08 C51.40,499.24 52.49,497.34 53.60,495.42 C54.74,493.46 55.93,491.43 57.08,489.42 C58.23,487.41 59.38,485.35 60.50,483.35 C61.59,481.40 62.66,479.42 63.70,477.57 C64.66,475.87 65.58,474.27 66.50,472.67 C67.38,471.15 68.22,469.68 69.10,468.23 C69.96,466.80 70.84,465.36 71.72,464.03 C72.56,462.76 73.33,461.68 74.25,460.40 C75.31,458.93 76.45,457.47 77.72,455.70 C79.34,453.45 81.33,450.67 83.12,447.95 C85.05,445.04 87.02,441.78 88.88,438.75 C90.66,435.84 92.27,432.84 94.05,430.12 C95.72,427.57 97.39,425.01 99.22,422.90 C100.88,421.00 102.67,419.39 104.47,417.93 C106.17,416.55 108.01,415.55 109.72,414.30 C111.43,413.06 113.14,411.81 114.75,410.48 C116.34,409.15 117.76,407.68 119.33,406.32 C120.90,404.96 122.50,403.53 124.17,402.32 C125.80,401.15 127.61,400.04 129.20,399.15 C130.57,398.39 131.88,397.81 133.12,397.22 C134.23,396.71 135.23,396.30 136.28,395.83 C137.32,395.35 138.47,394.55 139.40,394.40 C140.09,394.29 140.72,394.31 141.30,394.60 C142.01,394.95 142.59,395.96 143.20,396.65 C143.80,397.32 144.37,398.10 144.95,398.67 C145.44,399.16 146.02,400.01 146.40,399.90 C146.87,399.77 147.02,398.13 147.32,397.15 C147.67,396.05 147.99,394.78 148.35,393.60 C148.71,392.43 148.92,390.82 149.50,390.10 C149.89,389.61 150.45,389.51 150.95,389.25 C151.46,388.99 152.02,388.76 152.53,388.52 C153.00,388.31 153.58,388.32 153.90,387.90 C154.36,387.30 154.18,384.82 154.40,384.80 C154.55,384.79 154.74,385.75 154.93,386.25 C155.13,386.80 155.34,387.41 155.57,387.98 C155.81,388.54 156.11,389.06 156.35,389.65 C156.61,390.28 156.86,390.92 157.07,391.62 C157.32,392.42 157.34,394.02 157.70,394.20 C157.89,394.30 158.15,394.00 158.40,393.90 C158.68,393.79 159.06,393.47 159.30,393.60 C159.71,393.83 159.75,395.35 159.98,396.35 C160.24,397.52 160.51,398.84 160.75,400.20 C161.01,401.71 161.26,403.32 161.45,405.00 C161.66,406.85 161.81,408.85 161.93,410.85 C162.04,412.96 162.10,415.21 162.12,417.38 C162.15,419.51 162.12,421.56 162.05,423.75 C161.98,426.07 161.83,428.43 161.68,430.93 C161.50,433.66 161.25,436.66 161.03,439.52 C160.80,442.39 160.54,445.24 160.30,448.10" fill="none" stroke="#1f62d8" stroke-width="1.5" stroke-linejoin="round" stroke-linecap="round"/>
<path d="M38.80,532.00 C39.27,530.28 39.69,528.59 40.20,526.85 C40.73,525.05 41.29,523.23 41.92,521.40 C42.58,519.51 43.25,517.55 44.10,515.70 C44.96,513.83 45.88,511.96 47.05,510.23 C48.24,508.45 49.69,506.79 51.20,505.20 C52.74,503.58 54.51,502.08 56.23,500.60 C57.93,499.12 59.77,497.68 61.47,496.32 C63.06,495.06 64.62,493.88 66.10,492.70 C67.49,491.60 68.72,490.60 70.10,489.48 C71.59,488.26 73.13,486.95 74.72,485.65 C76.42,484.27 78.24,482.84 79.97,481.40 C81.73,479.94 83.43,478.54 85.20,476.95 C87.11,475.24 89.07,473.31 91.00,471.45 C92.95,469.56 94.90,467.68 96.85,465.70 C98.86,463.66 100.71,461.67 102.85,459.38 C105.37,456.68 108.16,453.41 111.00,450.50 C113.92,447.50 117.07,444.32 120.18,441.65 C123.07,439.16 126.08,437.02 129.00,434.90 C131.78,432.88 134.67,431.02 137.30,429.18 C139.70,427.48 142.00,425.84 144.15,424.25 C146.10,422.80 147.91,421.38 149.68,420.02 C151.31,418.77 152.83,417.56 154.38,416.40 C155.85,415.30 157.27,414.26 158.72,413.23 C160.18,412.19 161.64,411.19 163.10,410.17 C164.56,409.15 166.03,408.11 167.50,407.10 C168.96,406.10 170.41,405.07 171.88,404.12 C173.31,403.20 174.76,402.31 176.22,401.50 C177.67,400.70 179.13,399.97 180.60,399.27 C182.05,398.59 183.48,397.93 184.98,397.38 C186.49,396.81 188.05,396.33 189.65,395.90 C191.29,395.46 193.04,395.22 194.67,394.77 C196.28,394.34 197.87,393.92 199.38,393.27 C200.89,392.62 202.29,391.73 203.72,390.88 C205.19,390.00 206.63,388.98 208.10,388.10 C209.55,387.24 211.02,386.39 212.50,385.65 C213.95,384.92 215.40,384.25 216.88,383.67 C218.31,383.11 219.76,382.65 221.22,382.23 C222.67,381.81 224.16,381.54 225.60,381.15 C227.01,380.77 228.46,380.41 229.78,379.93 C231.01,379.47 232.20,378.89 233.28,378.38 C234.21,377.93 235.06,377.41 235.88,377.05 C236.56,376.74 237.20,376.19 237.80,376.30 C238.44,376.42 239.03,377.25 239.57,377.90 C240.22,378.67 240.77,379.68 241.33,380.70 C241.95,381.83 242.50,384.34 243.10,384.40 C243.53,384.44 243.93,382.77 244.40,382.70 C244.81,382.64 245.36,383.06 245.70,383.60 C246.35,384.62 246.39,387.19 246.70,389.20 C247.05,391.52 247.37,394.06 247.65,396.73 C247.96,399.73 248.22,403.02 248.43,406.33 C248.64,409.86 248.78,413.58 248.88,417.30 C248.97,421.14 248.96,425.10 249.00,429.00" fill="none" stroke="#27a05a" stroke-width="1.5" stroke-linejoin="round" stroke-linecap="round"/>
<path d="M38.80,532.00 C39.30,530.21 39.73,528.47 40.30,526.62 C40.91,524.64 41.59,522.60 42.35,520.50 C43.17,518.23 44.08,515.83 45.10,513.50 C46.15,511.10 47.31,508.59 48.60,506.30 C49.86,504.08 51.28,501.95 52.73,499.95 C54.12,498.02 55.66,496.28 57.10,494.48 C58.51,492.71 59.99,490.92 61.27,489.23 C62.44,487.68 63.52,486.10 64.50,484.73 C65.33,483.56 66.00,482.55 66.78,481.50 C67.54,480.46 68.32,479.51 69.10,478.45 C69.92,477.32 70.78,476.09 71.58,474.90 C72.36,473.73 73.04,472.57 73.83,471.35 C74.66,470.05 75.49,468.90 76.45,467.35 C77.73,465.29 79.28,462.73 80.75,460.02 C82.51,456.80 84.49,452.81 86.20,449.25 C87.85,445.81 89.39,442.26 90.88,439.00 C92.23,436.03 93.47,433.22 94.78,430.50 C96.00,427.96 97.22,425.59 98.45,423.18 C99.67,420.79 100.87,418.54 102.12,416.10 C103.46,413.49 104.82,410.69 106.22,407.98 C107.65,405.21 109.10,402.30 110.60,399.65 C112.02,397.13 113.51,394.73 114.98,392.42 C116.35,390.26 117.77,388.30 119.10,386.23 C120.42,384.17 121.62,382.13 122.92,380.02 C124.29,377.83 125.58,375.48 127.12,373.30 C128.71,371.07 130.46,368.81 132.35,366.83 C134.21,364.87 136.22,362.98 138.38,361.45 C140.47,359.96 142.74,358.64 145.07,357.73 C147.37,356.83 149.83,356.19 152.25,356.00 C154.65,355.81 157.17,356.14 159.53,356.57 C161.83,357.00 164.12,357.86 166.25,358.57 C168.23,359.24 170.12,359.98 171.92,360.70 C173.61,361.37 175.13,362.08 176.75,362.73 C178.37,363.38 179.86,363.97 181.65,364.60 C183.78,365.35 186.35,366.13 188.70,366.90" fill="none" stroke="#b376e8" stroke-width="1.5" stroke-linejoin="round" stroke-linecap="round"/>
<path d="M38.80,532.00 C38.97,529.92 39.12,527.87 39.33,525.75 C39.54,523.54 39.80,521.30 40.08,519.00 C40.36,516.58 40.68,514.10 41.03,511.55 C41.39,508.85 41.80,506.07 42.23,503.23 C42.68,500.24 43.18,497.08 43.67,494.05 C44.16,491.07 44.61,488.13 45.15,485.20 C45.69,482.30 46.23,479.54 46.90,476.57 C47.62,473.38 48.44,470.02 49.35,466.68 C50.29,463.19 51.34,459.61 52.48,456.05 C53.64,452.39 54.92,448.71 56.28,445.00 C57.67,441.19 59.11,437.32 60.75,433.48 C62.45,429.51 64.29,425.47 66.33,421.57 C68.37,417.65 70.74,413.66 73.00,410.03 C75.09,406.66 77.34,403.42 79.35,400.50 C81.10,397.96 82.73,395.61 84.38,393.45 C85.85,391.52 87.21,389.78 88.72,388.10 C90.20,386.47 91.74,385.04 93.32,383.53 C94.96,381.96 96.71,380.48 98.40,378.85 C100.17,377.15 101.95,375.31 103.70,373.50 C105.47,371.67 107.20,369.71 108.97,367.90 C110.71,366.14 112.43,364.34 114.22,362.77 C115.93,361.29 117.69,359.92 119.47,358.70 C121.19,357.53 122.97,356.62 124.72,355.58 C126.48,354.53 128.27,353.55 129.97,352.45 C131.68,351.35 133.41,350.10 134.95,348.98 C136.32,347.98 137.59,346.87 138.78,346.08 C139.73,345.44 140.54,344.90 141.48,344.50 C142.38,344.11 143.36,343.57 144.30,343.70 C145.35,343.85 146.40,344.98 147.43,345.65 C148.45,346.32 149.45,347.10 150.45,347.72 C151.38,348.31 152.37,349.37 153.20,349.30 C153.97,349.24 154.64,348.27 155.30,347.60 C156.05,346.84 156.70,345.83 157.40,344.93 C158.10,344.02 158.81,343.04 159.50,342.18 C160.13,341.39 160.81,340.74 161.35,339.95 C161.89,339.16 162.32,338.34 162.75,337.45 C163.21,336.50 163.56,334.42 164.00,334.40 C164.40,334.38 164.87,335.93 165.28,336.77 C165.71,337.69 166.09,339.71 166.50,339.70 C166.98,339.68 167.45,336.87 167.95,335.45 C168.45,334.01 168.87,331.96 169.50,331.10 C169.86,330.61 170.40,330.68 170.70,330.20 C171.16,329.48 171.16,327.91 171.40,326.83 C171.63,325.81 171.62,324.14 172.10,323.90 C172.44,323.73 173.16,324.06 173.50,324.50 C174.06,325.21 173.94,327.00 174.15,328.52 C174.43,330.50 174.57,333.28 174.97,335.35 C175.32,337.12 175.85,340.18 176.30,340.20 C176.64,340.22 176.98,338.45 177.33,337.58 C177.68,336.69 178.01,334.93 178.40,334.90 C178.71,334.87 179.08,336.52 179.40,336.50 C179.78,336.48 180.11,334.88 180.47,334.15 C180.81,333.49 181.14,332.28 181.50,332.30 C182.00,332.32 182.59,334.68 183.10,336.00 C183.66,337.46 183.95,339.94 184.70,340.70 C185.12,341.12 185.70,341.03 186.15,341.22 C186.56,341.40 187.00,341.34 187.30,341.80 C188.14,343.09 187.62,348.65 187.75,352.05 C187.88,355.40 188.01,358.71 188.07,362.05 C188.14,365.40 188.17,368.51 188.12,372.10 C188.07,376.26 187.91,380.99 187.73,385.55 C187.53,390.28 187.23,395.27 186.97,399.97 C186.73,404.49 186.44,408.76 186.23,413.23 C186.01,417.80 185.87,422.47 185.70,427.10" fill="none" stroke="#d49a1c" stroke-width="1.5" stroke-linejoin="round" stroke-linecap="round"/>
<path d="M408.10,371.50 C410.03,371.01 412.07,370.59 413.90,370.02 C415.60,369.50 417.18,368.95 418.73,368.28 C420.24,367.61 421.66,366.85 423.10,366.00 C424.59,365.12 426.05,364.11 427.50,363.07 C428.98,362.01 430.43,360.87 431.88,359.70 C433.34,358.51 434.79,357.28 436.23,355.97 C437.70,354.62 439.16,353.19 440.60,351.70 C442.08,350.16 443.53,348.52 444.97,346.88 C446.44,345.20 447.88,343.38 449.32,341.73 C450.71,340.14 452.09,338.45 453.48,337.15 C454.66,336.04 455.80,335.04 457.02,334.32 C458.14,333.67 459.25,333.38 460.48,332.93 C461.83,332.42 463.32,331.99 464.83,331.45 C466.46,330.86 468.19,330.02 469.93,329.50 C471.64,328.98 473.38,328.50 475.17,328.32 C477.02,328.15 478.92,328.42 480.85,328.50 C482.85,328.58 485.00,328.90 486.97,328.80 C488.86,328.71 490.74,328.51 492.45,327.98 C494.11,327.46 495.58,326.64 497.10,325.70 C498.76,324.68 500.31,323.31 501.98,321.98 C503.78,320.52 505.64,318.81 507.52,317.27 C509.43,315.72 511.38,314.06 513.38,312.70 C515.28,311.40 517.21,310.15 519.20,309.25 C521.10,308.40 523.06,307.73 525.02,307.38 C526.95,307.03 528.93,306.97 530.88,307.10 C532.83,307.23 534.80,307.60 536.73,308.15 C538.70,308.72 540.70,309.43 542.58,310.50 C544.60,311.65 546.55,313.19 548.40,314.95 C550.46,316.91 552.34,319.39 554.23,321.88 C556.24,324.54 558.15,327.55 560.08,330.48 C562.05,333.46 563.94,336.68 565.92,339.62 C567.84,342.46 569.73,345.40 571.77,347.85 C573.64,350.07 575.55,352.11 577.60,353.80 C579.51,355.37 581.52,356.53 583.60,357.75 C585.72,359.00 587.99,360.07 590.23,361.20 C592.49,362.35 594.84,363.61 597.10,364.60 C599.22,365.53 601.29,366.44 603.38,367.00 C605.33,367.53 607.25,367.80 609.20,367.95 C611.14,368.10 613.08,367.94 615.02,367.90 C616.97,367.86 618.93,367.66 620.88,367.70 C622.83,367.74 624.78,367.90 626.73,368.12 C628.68,368.35 630.62,368.79 632.58,369.05 C634.52,369.31 636.41,369.61 638.40,369.70 C640.49,369.79 642.60,369.68 644.85,369.55 C647.32,369.40 650.02,369.05 652.60,368.80" fill="none" stroke="#2d2d2d" stroke-width="1.4" stroke-linejoin="round" stroke-linecap="round"/>
<path d="M408.10,371.50 C409.70,372.20 411.36,372.86 412.90,373.60 C414.38,374.31 415.82,375.02 417.18,375.85 C418.51,376.66 419.76,377.54 420.98,378.50 C422.20,379.47 423.38,380.54 424.50,381.65 C425.62,382.76 426.65,383.95 427.68,385.18 C428.72,386.42 429.69,387.71 430.70,389.07 C431.78,390.54 432.87,392.07 433.95,393.70 C435.11,395.46 436.19,397.28 437.40,399.30 C438.80,401.63 440.27,404.16 441.82,406.88 C443.62,410.02 445.70,413.62 447.55,417.08 C449.43,420.58 451.25,424.30 453.00,427.78 C454.66,431.06 456.18,434.24 457.80,437.40 C459.39,440.50 461.04,443.55 462.60,446.57 C464.12,449.52 465.59,452.47 467.05,455.32 C468.45,458.07 469.68,460.74 471.18,463.38 C472.68,466.04 474.19,468.68 476.05,471.23 C478.01,473.91 480.22,476.63 482.73,479.05 C485.33,481.56 488.42,483.86 491.43,485.97 C494.39,488.06 497.71,489.72 500.62,491.67 C503.39,493.52 506.02,495.38 508.50,497.35 C510.88,499.24 513.06,501.45 515.25,503.25 C517.22,504.87 519.16,506.53 521.00,507.70 C522.51,508.66 523.95,509.47 525.38,509.95 C526.61,510.36 527.79,510.57 529.00,510.57 C530.20,510.58 531.32,510.32 532.60,509.98 C534.16,509.55 535.83,508.87 537.62,508.05 C539.82,507.04 542.44,505.84 544.75,504.23 C547.31,502.43 549.92,500.11 552.20,497.60 C554.61,494.95 556.72,491.65 558.75,488.62 C560.72,485.69 562.44,482.57 564.20,479.70 C565.85,477.02 567.32,474.40 569.00,471.95 C570.61,469.60 572.22,467.33 574.02,465.25 C575.80,463.21 577.77,461.42 579.72,459.57 C581.71,457.71 583.89,456.02 585.85,454.10 C587.82,452.17 589.69,450.01 591.52,448.05 C593.26,446.20 594.78,444.10 596.58,442.65 C598.17,441.36 599.86,440.39 601.62,439.62 C603.37,438.87 605.24,438.61 607.10,438.05 C609.04,437.46 611.01,436.87 613.02,436.15 C615.17,435.39 617.38,434.49 619.60,433.57 C621.90,432.63 624.31,431.57 626.60,430.55 C628.83,429.56 631.03,428.44 633.15,427.55 C635.10,426.74 637.00,426.04 638.82,425.40 C640.49,424.82 642.18,424.52 643.65,423.85 C645.01,423.23 646.29,422.50 647.38,421.60 C648.44,420.72 649.26,419.57 650.12,418.52 C650.97,417.50 651.71,416.44 652.50,415.40" fill="none" stroke="#1f62d8" stroke-width="1.5" stroke-linejoin="round" stroke-linecap="round"/>
<path d="M408.10,371.50 C409.49,371.86 410.86,372.21 412.28,372.58 C413.74,372.96 415.25,373.30 416.73,373.75 C418.22,374.21 419.72,374.73 421.18,375.32 C422.63,375.92 424.05,376.61 425.48,377.30 C426.91,377.99 428.34,378.72 429.78,379.47 C431.23,380.24 432.69,381.03 434.12,381.85 C435.56,382.67 436.97,383.53 438.38,384.40 C439.79,385.27 441.15,386.13 442.60,387.08 C444.16,388.09 445.80,389.11 447.43,390.30 C449.18,391.59 451.07,393.01 452.75,394.57 C454.47,396.18 456.08,397.96 457.60,399.82 C459.16,401.74 460.56,403.79 461.97,405.93 C463.46,408.17 464.84,410.58 466.27,413.02 C467.78,415.60 469.20,418.38 470.80,421.00 C472.42,423.65 474.12,426.42 475.95,428.85 C477.69,431.17 479.57,433.41 481.48,435.30 C483.20,437.01 485.00,438.57 486.80,439.80 C488.42,440.91 490.01,441.87 491.73,442.48 C493.39,443.07 495.15,443.31 496.93,443.45 C498.75,443.59 500.71,443.29 502.52,443.27 C504.25,443.26 505.93,443.18 507.55,443.33 C509.08,443.46 510.51,443.80 511.97,444.08 C513.43,444.35 514.87,444.72 516.33,445.00 C517.78,445.28 519.24,445.55 520.70,445.75 C522.16,445.95 523.62,446.13 525.08,446.23 C526.53,446.32 527.97,446.39 529.42,446.33 C530.88,446.26 532.34,446.04 533.80,445.85 C535.27,445.66 536.73,445.31 538.20,445.18 C539.66,445.04 541.12,444.97 542.58,445.02 C544.03,445.08 545.47,445.35 546.92,445.50 C548.38,445.65 549.84,445.93 551.30,445.95 C552.76,445.97 554.23,445.86 555.67,445.60 C557.14,445.34 558.58,444.81 560.02,444.37 C561.48,443.94 562.93,443.36 564.40,443.00 C565.85,442.64 567.31,442.35 568.77,442.20 C570.22,442.05 571.67,442.08 573.12,442.10 C574.58,442.12 576.04,442.31 577.50,442.35 C578.96,442.39 580.44,442.51 581.90,442.32 C583.38,442.14 584.87,441.78 586.30,441.23 C587.80,440.64 589.25,439.69 590.67,438.85 C592.08,438.02 593.41,436.94 594.80,436.22 C596.09,435.56 597.37,434.95 598.73,434.62 C600.07,434.30 601.49,434.36 602.90,434.27 C604.35,434.19 605.84,434.32 607.30,434.12 C608.78,433.93 610.26,433.56 611.70,433.07 C613.18,432.58 614.62,431.82 616.08,431.15 C617.53,430.48 618.97,429.71 620.42,429.05 C621.87,428.39 623.33,427.76 624.80,427.17 C626.26,426.59 627.72,426.02 629.20,425.55 C630.66,425.09 632.13,424.69 633.60,424.38 C635.05,424.07 636.54,423.92 637.97,423.67 C639.37,423.44 640.77,423.25 642.10,422.95 C643.37,422.66 644.78,422.60 645.80,421.90 C646.85,421.18 647.47,419.70 648.25,418.62 C648.98,417.61 649.65,416.65 650.35,415.65 C651.06,414.64 651.78,413.62 652.50,412.60" fill="none" stroke="#ee2222" stroke-width="1.5" stroke-linejoin="round" stroke-linecap="round"/>
<path d="M412.10,370.85 L413.85,372.60 L412.10,374.35 L410.35,372.60 Z" fill="#10d010"/>
<path d="M416.43,371.77 L418.18,373.52 L416.43,375.27 L414.68,373.52 Z" fill="#10d010"/>
<path d="M420.76,373.29 L422.51,375.04 L420.76,376.79 L419.01,375.04 Z" fill="#10d010"/>
<path d="M425.09,375.35 L426.84,377.10 L425.09,378.85 L423.34,377.10 Z" fill="#10d010"/>
<path d="M429.42,377.51 L431.17,379.26 L429.42,381.01 L427.67,379.26 Z" fill="#10d010"/>
<path d="M433.75,379.81 L435.50,381.56 L433.75,383.31 L432.00,381.56 Z" fill="#10d010"/>
<path d="M438.08,382.45 L439.83,384.20 L438.08,385.95 L436.33,384.20 Z" fill="#10d010"/>
<path d="M442.41,385.19 L444.16,386.94 L442.41,388.69 L440.66,386.94 Z" fill="#10d010"/>
<path d="M446.74,387.98 L448.49,389.73 L446.74,391.48 L444.99,389.73 Z" fill="#10d010"/>
<path d="M451.07,391.10 L452.82,392.85 L451.07,394.60 L449.32,392.85 Z" fill="#10d010"/>
<path d="M455.40,395.25 L457.15,397.00 L455.40,398.75 L453.65,397.00 Z" fill="#10d010"/>
<path d="M459.73,400.80 L461.48,402.55 L459.73,404.30 L457.98,402.55 Z" fill="#10d010"/>
<path d="M464.06,407.30 L465.81,409.05 L464.06,410.80 L462.31,409.05 Z" fill="#10d010"/>
<path d="M468.39,415.08 L470.14,416.83 L468.39,418.58 L466.64,416.83 Z" fill="#10d010"/>
<path d="M472.72,422.66 L474.47,424.41 L472.72,426.16 L470.97,424.41 Z" fill="#10d010"/>
<path d="M477.05,428.88 L478.80,430.63 L477.05,432.38 L475.30,430.63 Z" fill="#10d010"/>
<path d="M481.38,433.91 L483.13,435.66 L481.38,437.41 L479.63,435.66 Z" fill="#10d010"/>
<path d="M485.71,437.49 L487.46,439.24 L485.71,440.99 L483.96,439.24 Z" fill="#10d010"/>
<path d="M490.04,440.17 L491.79,441.92 L490.04,443.67 L488.29,441.92 Z" fill="#10d010"/>
<path d="M494.37,441.72 L496.12,443.47 L494.37,445.22 L492.62,443.47 Z" fill="#10d010"/>
<path d="M498.70,441.91 L500.45,443.66 L498.70,445.41 L496.95,443.66 Z" fill="#10d010"/>
<path d="M503.03,441.25 L504.78,443.00 L503.03,444.75 L501.28,443.00 Z" fill="#10d010"/>
<path d="M507.36,441.34 L509.11,443.09 L507.36,444.84 L505.61,443.09 Z" fill="#10d010"/>
<path d="M511.69,442.28 L513.44,444.03 L511.69,445.78 L509.94,444.03 Z" fill="#10d010"/>
<path d="M516.02,443.19 L517.77,444.94 L516.02,446.69 L514.27,444.94 Z" fill="#10d010"/>
<path d="M520.35,444.08 L522.10,445.83 L520.35,447.58 L518.60,445.83 Z" fill="#10d010"/>
<path d="M524.68,444.42 L526.43,446.17 L524.68,447.92 L522.93,446.17 Z" fill="#10d010"/>
<path d="M529.01,444.81 L530.76,446.56 L529.01,448.31 L527.26,446.56 Z" fill="#10d010"/>
<path d="M533.34,444.22 L535.09,445.97 L533.34,447.72 L531.59,445.97 Z" fill="#10d010"/>
<path d="M537.67,443.36 L539.42,445.11 L537.67,446.86 L535.92,445.11 Z" fill="#10d010"/>
<path d="M542.00,443.08 L543.75,444.83 L542.00,446.58 L540.25,444.83 Z" fill="#10d010"/>
<path d="M546.33,443.66 L548.08,445.41 L546.33,447.16 L544.58,445.41 Z" fill="#10d010"/>
<path d="M550.66,444.35 L552.41,446.10 L550.66,447.85 L548.91,446.10 Z" fill="#10d010"/>
<path d="M554.99,444.20 L556.74,445.95 L554.99,447.70 L553.24,445.95 Z" fill="#10d010"/>
<path d="M559.32,442.89 L561.07,444.64 L559.32,446.39 L557.57,444.64 Z" fill="#10d010"/>
<path d="M563.65,441.32 L565.40,443.07 L563.65,444.82 L561.90,443.07 Z" fill="#10d010"/>
<path d="M567.98,440.40 L569.73,442.15 L567.98,443.90 L566.23,442.15 Z" fill="#10d010"/>
<path d="M572.31,440.25 L574.06,442.00 L572.31,443.75 L570.56,442.00 Z" fill="#10d010"/>
<path d="M576.64,440.57 L578.39,442.32 L576.64,444.07 L574.89,442.32 Z" fill="#10d010"/>
<path d="M580.97,440.81 L582.72,442.56 L580.97,444.31 L579.22,442.56 Z" fill="#10d010"/>
<path d="M585.30,440.15 L587.05,441.90 L585.30,443.65 L583.55,441.90 Z" fill="#10d010"/>
<path d="M589.63,437.83 L591.38,439.58 L589.63,441.33 L587.88,439.58 Z" fill="#10d010"/>
<path d="M593.96,434.88 L595.71,436.63 L593.96,438.38 L592.21,436.63 Z" fill="#10d010"/>
<path d="M598.29,432.55 L600.04,434.30 L598.29,436.05 L596.54,434.30 Z" fill="#10d010"/>
<path d="M602.62,432.45 L604.37,434.20 L602.62,435.95 L600.87,434.20 Z" fill="#10d010"/>
<path d="M606.95,432.73 L608.70,434.48 L606.95,436.23 L605.20,434.48 Z" fill="#10d010"/>
<path d="M611.28,431.66 L613.03,433.41 L611.28,435.16 L609.53,433.41 Z" fill="#10d010"/>
<path d="M615.61,429.68 L617.36,431.43 L615.61,433.18 L613.86,431.43 Z" fill="#10d010"/>
<path d="M619.94,427.40 L621.69,429.15 L619.94,430.90 L618.19,429.15 Z" fill="#10d010"/>
<path d="M624.27,425.65 L626.02,427.40 L624.27,429.15 L622.52,427.40 Z" fill="#10d010"/>
<path d="M628.60,423.90 L630.35,425.65 L628.60,427.40 L626.85,425.65 Z" fill="#10d010"/>
<path d="M632.93,422.63 L634.68,424.38 L632.93,426.13 L631.18,424.38 Z" fill="#10d010"/>
<path d="M637.26,422.03 L639.01,423.78 L637.26,425.53 L635.51,423.78 Z" fill="#10d010"/>
<path d="M641.59,421.45 L643.34,423.20 L641.59,424.95 L639.84,423.20 Z" fill="#10d010"/>
<path d="M645.92,419.99 L647.67,421.74 L645.92,423.49 L644.17,421.74 Z" fill="#10d010"/>
<path d="M650.25,413.98 L652.00,415.73 L650.25,417.48 L648.50,415.73 Z" fill="#10d010"/>
<line x1="266.4" y1="17.2" x2="294.8" y2="17.2" stroke="#2d2d2d" stroke-width="1.6"/>
<text x="297.2" y="20.9" font-size="12.3">Y1-1</text>
<line x1="266.4" y1="32.3" x2="294.8" y2="32.3" stroke="#e8302e" stroke-width="1.6"/>
<text x="297.2" y="36.0" font-size="12.3">Y1-2</text>
<line x1="266.4" y1="47.4" x2="294.8" y2="47.4" stroke="#1f62d8" stroke-width="1.6"/>
<text x="297.2" y="51.1" font-size="12.3">Y1-3</text>
<line x1="266.4" y1="62.5" x2="294.8" y2="62.5" stroke="#27a05a" stroke-width="1.6"/>
<text x="297.2" y="66.2" font-size="12.3">Y1-4</text>
<line x1="266.4" y1="77.6" x2="294.8" y2="77.6" stroke="#b376e8" stroke-width="1.6"/>
<text x="297.2" y="81.3" font-size="12.3">Y1-5</text>
<line x1="266.4" y1="92.7" x2="294.8" y2="92.7" stroke="#d49a1c" stroke-width="1.6"/>
<text x="297.2" y="96.4" font-size="12.3">Y1-6</text>
<text x="53.3" y="32.6" font-size="23" font-weight="bold">a</text>
<line x1="381.9" y1="11.3" x2="410.6" y2="11.3" stroke="#2d2d2d" stroke-width="1.6"/>
<text x="414.4" y="15.0" font-size="12.3">Y2-1</text>
<line x1="381.9" y1="26.4" x2="410.6" y2="26.4" stroke="#e8302e" stroke-width="1.6"/>
<text x="414.4" y="30.1" font-size="12.3">Y2-2</text>
<line x1="381.9" y1="41.5" x2="410.6" y2="41.5" stroke="#27a05a" stroke-width="1.6"/>
<text x="414.4" y="45.2" font-size="12.3">Y2-3</text>
<line x1="381.9" y1="56.6" x2="410.6" y2="56.6" stroke="#1f62d8" stroke-width="1.6"/>
<text x="414.4" y="60.3" font-size="12.3">Y2-4</text>
<line x1="381.9" y1="71.7" x2="410.6" y2="71.7" stroke="#b376e8" stroke-width="1.6"/>
<text x="414.4" y="75.4" font-size="12.3">Y2-5</text>
<line x1="381.9" y1="86.8" x2="410.6" y2="86.8" stroke="#d49a1c" stroke-width="1.6"/>
<text x="414.4" y="90.5" font-size="12.3">Y2-6</text>
<text x="644" y="33.5" font-size="23" font-weight="bold">b</text>
<line x1="267.6" y1="312.3" x2="296.0" y2="312.3" stroke="#2d2d2d" stroke-width="1.6"/>
<text x="298.9" y="316.0" font-size="12.3">Y3-1</text>
<line x1="267.6" y1="327.4" x2="296.0" y2="327.4" stroke="#e8302e" stroke-width="1.6"/>
<text x="298.9" y="331.1" font-size="12.3">Y3-2</text>
<line x1="267.6" y1="342.5" x2="296.0" y2="342.5" stroke="#1f62d8" stroke-width="1.6"/>
<text x="298.9" y="346.2" font-size="12.3">Y3-3</text>
<line x1="267.6" y1="357.6" x2="296.0" y2="357.6" stroke="#27a05a" stroke-width="1.6"/>
<text x="298.9" y="361.3" font-size="12.3">Y3-4</text>
<line x1="267.6" y1="372.7" x2="296.0" y2="372.7" stroke="#b376e8" stroke-width="1.6"/>
<text x="298.9" y="376.4" font-size="12.3">Y3-5</text>
<line x1="267.6" y1="387.8" x2="296.0" y2="387.8" stroke="#d49a1c" stroke-width="1.6"/>
<text x="298.9" y="391.5" font-size="12.3">Y3-6</text>
<text x="53.3" y="327.1" font-size="23" font-weight="bold">c</text>
<line x1="387.3" y1="488.5" x2="404.9" y2="488.5" stroke="#2d2d2d" stroke-width="1.5"/>
<text x="407.4" y="491.4" font-size="7.65">Reflected strain</text>
<line x1="387.3" y1="498.4" x2="404.9" y2="498.4" stroke="#ee2222" stroke-width="1.5"/>
<text x="407.4" y="501.3" font-size="7.65">Transmitted strain</text>
<line x1="387.3" y1="508.1" x2="404.9" y2="508.1" stroke="#1f62d8" stroke-width="1.5"/>
<text x="407.4" y="511.0" font-size="7.65">Incident strain</text>
<path d="M396.40,515.85 L398.15,517.60 L396.40,519.35 L394.65,517.60 Z" fill="#10d010"/>
<text x="407.4" y="520.5" font-size="7.65">Reflected strain+Incident strain</text>
<text x="651.5" y="320.8" font-size="23" font-weight="bold">d</text>
<rect x="36.90" y="4.10" width="295.40" height="237.10" fill="none" stroke="#2b2b2b" stroke-width="1.5"/>
<rect x="380.00" y="2.90" width="295.50" height="237.30" fill="none" stroke="#2b2b2b" stroke-width="1.5"/>
<rect x="38.70" y="297.40" width="294.70" height="236.80" fill="none" stroke="#2b2b2b" stroke-width="1.5"/>
<rect x="381.50" y="296.40" width="295.80" height="237.80" fill="none" stroke="#2b2b2b" stroke-width="1.5"/>
</svg>
</body></html>
